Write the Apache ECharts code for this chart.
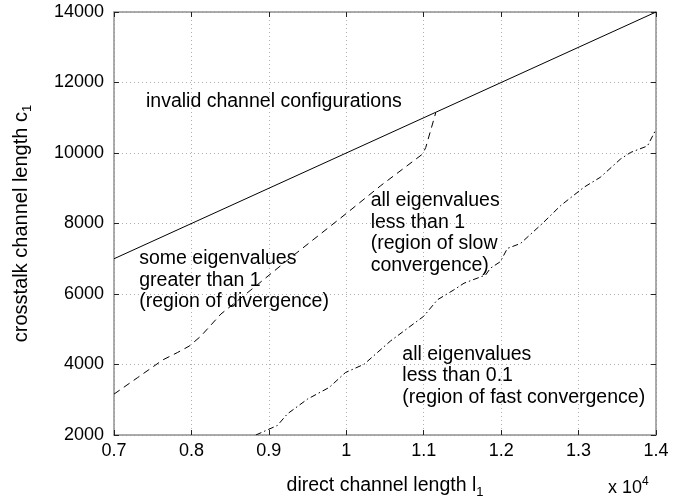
<!DOCTYPE html>
<html>
<head>
<meta charset="utf-8">
<script src="https://cdn.jsdelivr.net/npm/echarts@6/dist/echarts.min.js"></script>
<style>
  html, body { margin: 0; padding: 0; background: #fff; }
  #chart { width: 685px; height: 504px; }
</style>
</head>
<body>
<div id="chart"></div>
<script>
// Direct channel length l1 ticks (axis shows them in units of 1e4)
const xTickValues = [7000, 8000, 9000, 10000, 11000, 12000, 13000, 14000];
const xTickLabels = ['0.7', '0.8', '0.9', '1', '1.1', '1.2', '1.3', '1.4'];
const yTickLabels = ['2000', '4000', '6000', '8000', '10000', '12000', '14000'];

// c1 = l1 : above it the configuration is invalid
const invalidBoundary = [[7000, 7000], [14000, 14000]];

// Boundary between divergence and slow convergence
const divergenceBoundary = [
  [7000, 3160], [7306, 3630], [7630, 4130], [7820, 4340], [7970, 4520],
  [8120, 4800], [8380, 5430], [8850, 6260], [9240, 6960], [10015, 8310],
  [10445, 9074], [10983, 9966], [11026, 10155], [11155, 11140]
];

// Boundary between slow and fast convergence (eigenvalues < 0.1)
const fastBoundary = [
  [8832, 2000], [9110, 2270], [9240, 2600], [9500, 3020], [9780, 3350],
  [9990, 3773], [10230, 4007], [10570, 4665], [11000, 5369], [11177, 5836],
  [11390, 6118], [11520, 6306], [11800, 6540], [11860, 6729], [11990, 6917],
  [12080, 7292], [12250, 7433], [12530, 7995], [12770, 8511], [13070, 9029],
  [13280, 9310], [13540, 9825], [13670, 10014], [13890, 10200], [14000, 10670]
];

// Region captions, anchored (top-left) in data coordinates
const regionNotes = [
  { at: [7413, 11772], lines: ['invalid channel configurations'] },
  { at: [7326, 7316], lines: ['some eigenvalues', 'greater than 1', '(region of divergence)'] },
  { at: [10315, 8957], lines: ['all eigenvalues', 'less than 1', '(region of slow', 'convergence)'] },
  { at: [10724, 4594], lines: ['all eigenvalues', 'less than 0.1', '(region of fast convergence)'] }
];

const FONT = '"Liberation Sans", Arial, Helvetica, sans-serif';
const frameLine = { show: true, lineStyle: { color: '#909090', width: 1.5 } };
const innerTicks = { show: true, inside: true, length: 5, lineStyle: { color: '#222', width: 1 } };
const gridLines = { show: true, lineStyle: { color: '#b0b0b0', width: 1, type: [1, 3] } };

const chart = echarts.init(document.getElementById('chart'), null, { renderer: 'canvas' });

chart.setOption({
  animation: false,
  backgroundColor: '#fff',
  grid: { left: 113, right: 29, top: 12, bottom: 66, containLabel: false },
  xAxis: [
    {
      type: 'value', min: 7000, max: 14000, interval: 1000,
      axisLine: frameLine, axisTick: innerTicks, splitLine: gridLines,
      axisLabel: {
        color: '#000', fontFamily: FONT, fontSize: 18, margin: 7,
        formatter: v => xTickLabels[xTickValues.indexOf(Math.round(v))] || ''
      },
      name: 'direct channel length l{sub|1}',
      nameLocation: 'middle', nameGap: 38,
      nameTextStyle: {
        color: '#000', fontFamily: FONT, fontSize: 19.5, lineHeight: 26,
        rich: { sub: { fontFamily: FONT, fontSize: 13, lineHeight: 13, verticalAlign: 'bottom', color: '#000' } }
      }
    },
    {
      type: 'value', position: 'top', min: 7000, max: 14000, interval: 1000,
      axisLine: frameLine, axisTick: innerTicks, axisLabel: { show: false }, splitLine: { show: false }
    }
  ],
  yAxis: [
    {
      type: 'value', min: 2000, max: 14000, interval: 2000,
      axisLine: frameLine, axisTick: innerTicks, splitLine: gridLines,
      axisLabel: {
        color: '#000', fontFamily: FONT, fontSize: 18, margin: 10,
        formatter: v => yTickLabels[Math.round((v - 2000) / 2000)] || ''
      },
      name: 'crosstalk channel length c{sub|1}',
      nameLocation: 'middle', nameGap: 80, nameRotate: 90,
      nameTextStyle: {
        color: '#000', fontFamily: FONT, fontSize: 20, lineHeight: 26,
        rich: { sub: { fontFamily: FONT, fontSize: 13, lineHeight: 13, verticalAlign: 'bottom', color: '#000' } }
      }
    },
    {
      type: 'value', position: 'right', min: 2000, max: 14000, interval: 2000,
      axisLine: frameLine, axisTick: innerTicks, axisLabel: { show: false }, splitLine: { show: false }
    }
  ],
  series: [
    {
      type: 'line', data: invalidBoundary, showSymbol: false, symbol: 'none',
      lineStyle: { color: '#000', width: 1, type: 'solid' }, z: 5
    },
    {
      type: 'line', data: divergenceBoundary, showSymbol: false, symbol: 'none',
      lineStyle: { color: '#000', width: 1, type: [7, 5] }, z: 5
    },
    {
      type: 'line', data: fastBoundary, showSymbol: false, symbol: 'none',
      lineStyle: { color: '#000', width: 1, type: [6, 3, 1.5, 3] }, z: 5
    }
  ]
});

// Place region captions and the axis exponent once the scales are known
const captionLineHeight = 21.7;
const captions = regionNotes.map(note => {
  const p = chart.convertToPixel({ gridIndex: 0 }, note.at);
  return {
    type: 'text', x: p[0], y: p[1], z: 10,
    style: {
      text: note.lines.join('\n'), fill: '#000', font: '19.5px ' + FONT,
      lineHeight: captionLineHeight, align: 'left', verticalAlign: 'top'
    }
  };
});
const axisEnd = chart.convertToPixel({ gridIndex: 0 }, [14000, 2000]);
captions.push({
  type: 'text', x: axisEnd[0] - 48, y: axisEnd[1] + 41, z: 10,
  style: {
    text: 'x 10{sup|4}', fill: '#000', font: '18px ' + FONT, lineHeight: 24,
    verticalAlign: 'top', align: 'left',
    rich: { sup: { font: '12px ' + FONT, fill: '#000', verticalAlign: 'top', lineHeight: 12 } }
  }
});
chart.setOption({ graphic: captions });
</script>
</body>
</html>
